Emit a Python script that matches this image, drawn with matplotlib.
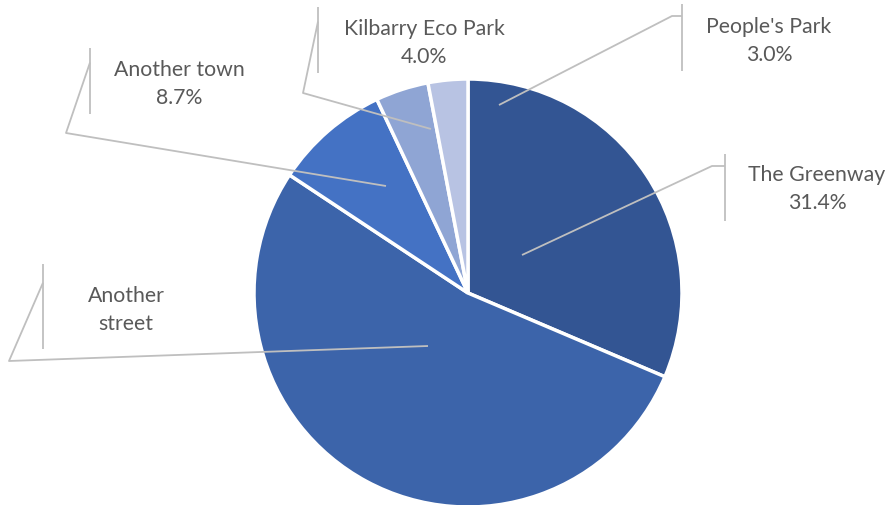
import matplotlib.pyplot as plt

# Where people walk, share of responses
labels = ["The Greenway", "Another street", "Another town",
          "Kilbarry Eco Park", "People's Park"]
shares = [31.4, 52.9, 8.7, 4.0, 3.0]
show_pct = [True, False, True, True, True]
colors = ["#335593", "#3C64AA", "#4472C4", "#8FA5D4", "#B8C3E3"]

W, H = 893, 506

# label layout in pixel space (y down): text centre, leader start, elbow, bar
label_layout = {
    "The Greenway":      dict(text=(817, 189), start=(522, 256), elbow=(712, 167), bar=(725, 155, 222)),
    "Another street":    dict(text=(126, 310), start=(428, 347), elbow=(9, 362),   bar=(43, 265, 350)),
    "Another town":      dict(text=(179, 84),  start=(386, 187), elbow=(66, 134),  bar=(90, 49, 115)),
    "Kilbarry Eco Park": dict(text=(424, 43),  start=(431, 130), elbow=(303, 94),  bar=(318, 8, 74)),
    "People's Park":     dict(text=(769, 41),  start=(499, 106), elbow=(672, 17),  bar=(682, 5, 72)),
}

fig = plt.figure(figsize=(W / 100, H / 100), dpi=100)
ax = fig.add_axes([0, 0, 1, 1])

ax.pie(shares, colors=colors, startangle=90, counterclock=False,
       center=(468, H - 294), radius=214,
       wedgeprops=dict(edgecolor="white", linewidth=2.5))

ax.set_xlim(0, W)
ax.set_ylim(0, H)
ax.set_aspect("equal")
ax.axis("off")

line_kw = dict(color="#BFBFBF", lw=1.3, solid_capstyle="butt", zorder=3)
for name, share, pct in zip(labels, shares, show_pct):
    lay = label_layout[name]
    sx, sy = lay["start"]
    ex, ey = lay["elbow"]
    bx, by0, by1 = lay["bar"]
    if ex < bx and ey > by1:
        # elbow sits below the bar: climb diagonally to its upper part
        jy = by0 + (by1 - by0) * 0.22
    else:
        jy = ey
    ax.plot([sx, ex, bx], [H - sy, H - ey, H - jy], **line_kw)
    ax.plot([bx, bx], [H - by0, H - by1], **line_kw)

    tx, ty = lay["text"]
    if pct:
        txt = f"{name}\n{share:.1f}%"
    else:
        txt = name.replace(" ", "\n")
    ax.text(tx, H - ty, txt, ha="center", va="center", fontsize=15.3,
            family="Lato", color="#595959", linespacing=1.45)

fig.savefig("out.png", dpi=100)
